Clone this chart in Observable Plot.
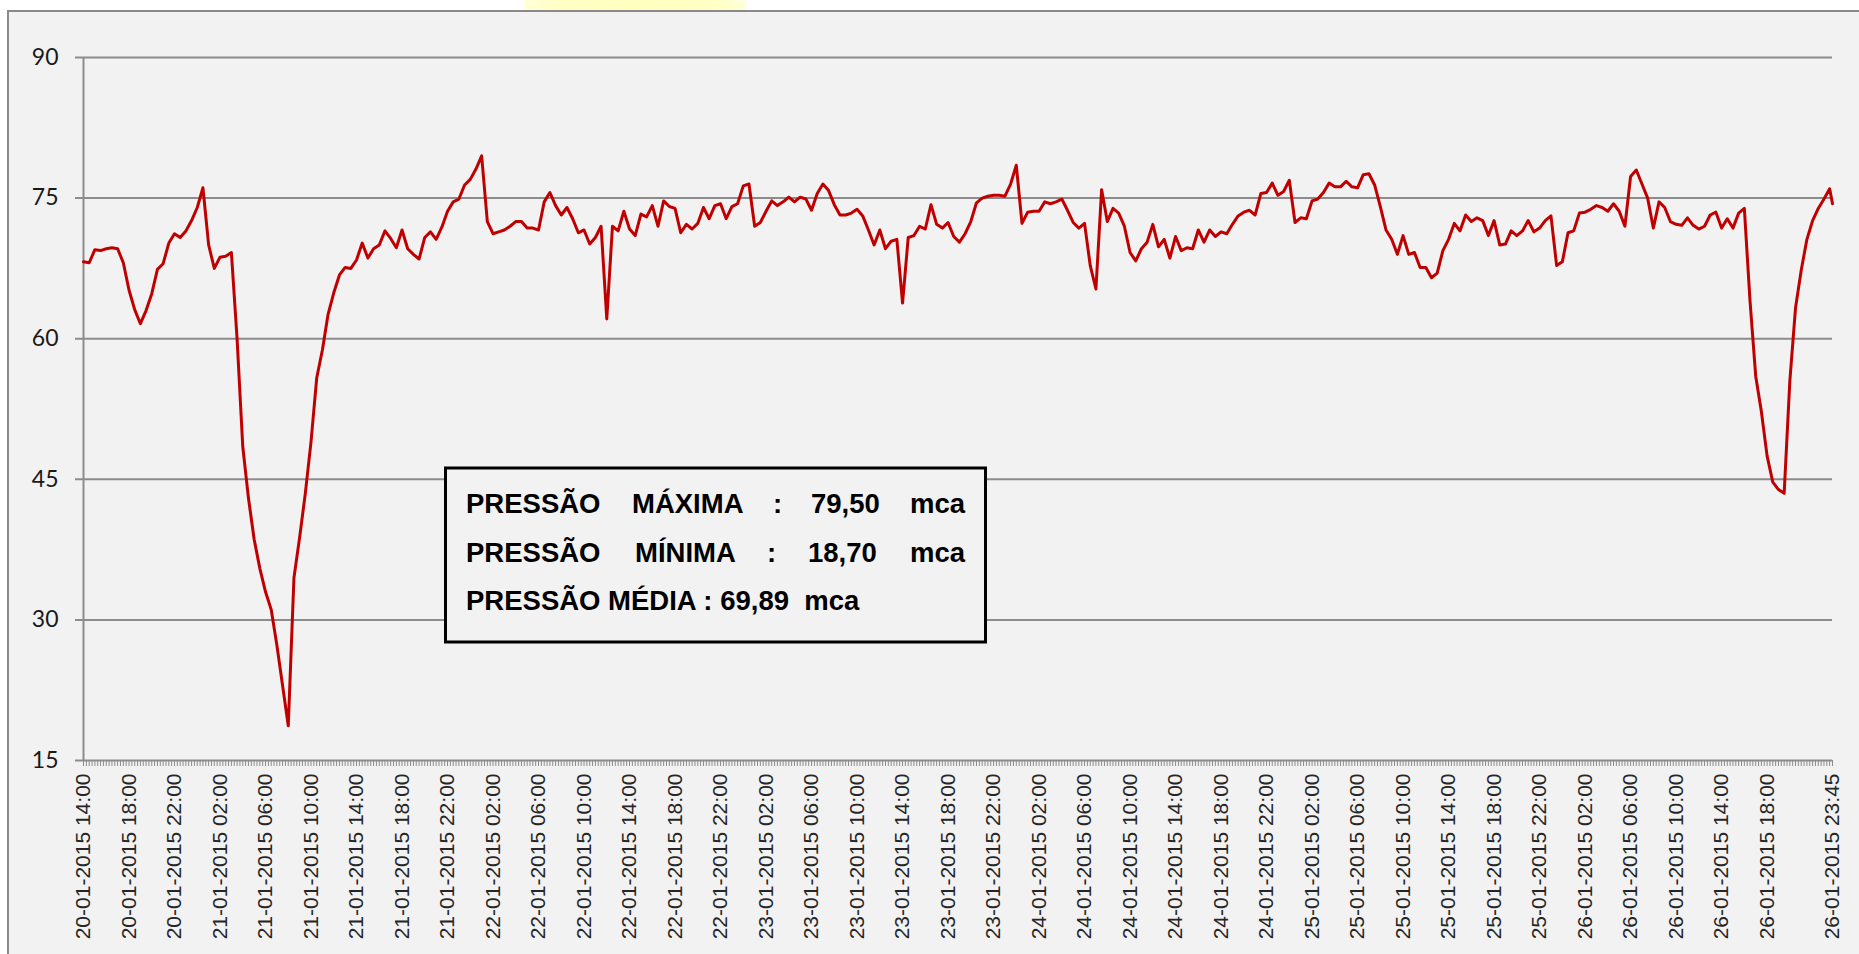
<!DOCTYPE html>
<html>
<head>
<meta charset="utf-8">
<script src="https://cdn.jsdelivr.net/npm/d3@7"></script>
<script src="https://cdn.jsdelivr.net/npm/@observablehq/plot@0.6"></script>
<style>
  html, body { margin: 0; padding: 0; width: 1859px; height: 954px; overflow: hidden; background: #ffffff; }
  #glow { position: absolute; left: 524px; top: -8px; width: 222px; height: 20px;
          background: radial-gradient(ellipse at 50% 70%, #ffffbe 0%, #ffffc6 55%, rgba(255,255,220,0) 100%); }
  #frame { position: absolute; left: 7px; top: 10px; width: 1900px; height: 1000px;
           background: #f2f2f2; border: 2px solid #8a8a8a; }
  #chart { position: absolute; left: 0; top: 0; }
  #note { position: absolute; left: 0; top: 0; }
</style>
</head>
<body>
<div id="glow"></div>
<div id="frame"></div>
<div id="chart"></div>
<svg id="note" width="1859" height="954" xmlns="http://www.w3.org/2000/svg"></svg>
<script>
// ---- data -------------------------------------------------------------
const firstReading = "20-01-2015 14:00";
const intervalMinutes = 30;
// pressure (mca), one reading every 30 minutes from the first reading
const pressure = [
  68.2, 68.1, 69.5, 69.4, 69.6, 69.7, 69.6, 68.1, 65.2, 63.1,
  61.6, 63.0, 64.8, 67.4, 68.0, 70.2, 71.2, 70.8, 71.5, 72.6,
  74.0, 76.1, 70.0, 67.5, 68.7, 68.8, 69.2, 60.0, 48.5, 43.0,
  38.6, 35.5, 33.0, 31.1, 27.3, 23.0, 18.7, 34.5, 38.8, 43.5,
  49.0, 55.8, 58.8, 62.6, 64.9, 66.8, 67.6, 67.5, 68.4, 70.2,
  68.6, 69.6, 70.0, 71.5, 70.7, 69.7, 71.6, 69.6, 69.0, 68.5,
  70.8, 71.4, 70.6, 71.9, 73.6, 74.6, 74.9, 76.4, 77.0, 78.1,
  79.5, 72.5, 71.2, 71.4, 71.6, 72.0, 72.5, 72.5, 71.8, 71.8,
  71.6, 74.6, 75.6, 74.2, 73.2, 74.0, 72.8, 71.3, 71.6, 70.1,
  70.8, 72.0, 62.1, 72.0, 71.5, 73.6, 71.7, 71.0, 73.3, 73.0,
  74.2, 72.0, 74.7, 74.1, 73.9, 71.3, 72.2, 71.7, 72.3, 74.0,
  72.8, 74.2, 74.4, 72.8, 74.1, 74.4, 76.3, 76.5, 72.0, 72.4,
  73.6, 74.7, 74.2, 74.6, 75.1, 74.6, 75.1, 74.9, 73.7, 75.5,
  76.5, 75.8, 74.3, 73.2, 73.2, 73.4, 73.8, 73.1, 71.6, 70.0,
  71.6, 69.6, 70.4, 70.6, 63.8, 70.8, 71.0, 72.0, 71.7, 74.3,
  72.2, 71.8, 72.4, 70.9, 70.3, 71.2, 72.5, 74.5, 75.0, 75.2,
  75.3, 75.3, 75.2, 76.5, 78.5, 72.3, 73.5, 73.6, 73.6, 74.6,
  74.4, 74.6, 74.9, 73.7, 72.4, 71.8, 72.3, 67.8, 65.3, 75.9,
  72.5, 73.9, 73.4, 72.0, 69.2, 68.3, 69.6, 70.3, 72.2, 69.8,
  70.6, 68.6, 70.9, 69.4, 69.7, 69.6, 71.6, 70.3, 71.6, 70.9,
  71.4, 71.2, 72.2, 73.1, 73.5, 73.7, 73.2, 75.5, 75.6, 76.6,
  75.3, 75.7, 76.9, 72.4, 72.9, 72.8, 74.7, 74.9, 75.6, 76.6,
  76.2, 76.2, 76.8, 76.2, 76.1, 77.5, 77.6, 76.4, 74.1, 71.6,
  70.6, 69.0, 71.0, 69.0, 69.2, 67.6, 67.6, 66.5, 67.0, 69.4,
  70.6, 72.3, 71.5, 73.2, 72.5, 72.9, 72.6, 71.0, 72.6, 70.0,
  70.1, 71.5, 71.0, 71.5, 72.6, 71.4, 71.8, 72.6, 73.1, 67.8,
  68.2, 71.3, 71.5, 73.4, 73.5, 73.8, 74.2, 74.0, 73.6, 74.4,
  73.6, 72.0, 77.3, 78.0, 76.5, 75.0, 71.8, 74.6, 74.0, 72.5,
  72.2, 72.1, 72.9, 72.1, 71.7, 72.0, 73.2, 73.5, 71.8, 72.8,
  71.8, 73.4, 73.9, 64.0, 56.0, 52.2, 47.5, 44.7, 43.9, 43.5,
  55.5, 63.3, 67.3, 70.6, 72.6, 73.9, 74.9, 76.0
];
const lastReading = { time: "26-01-2015 23:45", value: 74.4 };

const yTicks = [15, 30, 45, 60, 75, 90];
const xTickLabels = [
  "20-01-2015 14:00", "20-01-2015 18:00", "20-01-2015 22:00",
  "21-01-2015 02:00", "21-01-2015 06:00", "21-01-2015 10:00", "21-01-2015 14:00", "21-01-2015 18:00", "21-01-2015 22:00",
  "22-01-2015 02:00", "22-01-2015 06:00", "22-01-2015 10:00", "22-01-2015 14:00", "22-01-2015 18:00", "22-01-2015 22:00",
  "23-01-2015 02:00", "23-01-2015 06:00", "23-01-2015 10:00", "23-01-2015 14:00", "23-01-2015 18:00", "23-01-2015 22:00",
  "24-01-2015 02:00", "24-01-2015 06:00", "24-01-2015 10:00", "24-01-2015 14:00", "24-01-2015 18:00", "24-01-2015 22:00",
  "25-01-2015 02:00", "25-01-2015 06:00", "25-01-2015 10:00", "25-01-2015 14:00", "25-01-2015 18:00", "25-01-2015 22:00",
  "26-01-2015 02:00", "26-01-2015 06:00", "26-01-2015 10:00", "26-01-2015 14:00", "26-01-2015 18:00", "26-01-2015 23:45"
];

const statNames = ["PRESSÃO", "PRESSÃO"];
const statKinds = ["MÁXIMA", "MÍNIMA"];
const statValues = ["79,50", "18,70"];
const meanLine = "PRESSÃO MÉDIA : 69,89\u00a0\u00a0mca";
const unit = "mca";

// ---- build ------------------------------------------------------------
const parse = d3.utcParse("%d-%m-%Y %H:%M");
const fmt = d3.utcFormat("%d-%m-%Y %H:%M");
const t0 = parse(firstReading);
const tEnd = parse(lastReading.time);
const rows = pressure.map((v, i) => ({ time: d3.utcMinute.offset(t0, i * intervalMinutes), value: v }));
rows.push({ time: tEnd, value: lastReading.value });

const quarterTicks = d3.utcMinute.every(15).range(t0, d3.utcMinute.offset(tEnd, 1));
const labelTicks = xTickLabels.map(parse);

const chart = Plot.plot({
  width: 1859,
  height: 954,
  marginLeft: 83,
  marginRight: 27,
  marginTop: 57,
  marginBottom: 194,
  style: { background: "transparent", color: "#1a1a1a", overflow: "visible" },
  x: { type: "utc", domain: [t0, tEnd] },
  y: { domain: [15, 90] },
  marks: [
    Plot.ruleY(yTicks, { stroke: "#8c8c8c", strokeWidth: 2, insetLeft: -8 }),
    Plot.ruleX([t0], { stroke: "#8c8c8c", strokeWidth: 2 }),
    Plot.axisY({ ticks: yTicks, tickSize: 0, tickPadding: 25, fontSize: 23, fontFamily: "Lato",
                 tickFormat: d => String(d), label: null }),
    Plot.axisX({ ticks: quarterTicks, tickSize: 6, tickFormat: () => "", stroke: "#8c8c8c",
                 strokeWidth: 1, label: null }),
    Plot.axisX({ ticks: labelTicks, tickSize: 0, tickPadding: 13, tickRotate: -90, tickFormat: fmt,
                 fontSize: 21, fontFamily: "Liberation Sans", fill: "#262626", label: null }),
    Plot.line(rows, { x: "time", y: "value", stroke: "#c00000", strokeWidth: 3,
                      strokeLinejoin: "round", strokeLinecap: "round" })
  ]
});
document.getElementById("chart").append(chart);

// ---- statistics box ---------------------------------------------------
const ns = "http://www.w3.org/2000/svg";
const note = document.getElementById("note");
function add(tag, attrs, text) {
  const el = document.createElementNS(ns, tag);
  for (const k in attrs) el.setAttribute(k, attrs[k]);
  if (text != null) el.textContent = text;
  note.appendChild(el);
  return el;
}
add("rect", { x: 445.5, y: 468, width: 540, height: 174, fill: "#f2f2f2", stroke: "#000", "stroke-width": 3 });
const tStyle = { "font-family": "Liberation Sans, Arial, sans-serif", "font-weight": "bold", "font-size": 27.5, fill: "#000" };
const lineY = [513, 562];
const kindX = [632, 635];
const colonX = [773, 767];
const valueX = [811, 808];
for (let i = 0; i < 2; i++) {
  add("text", { ...tStyle, x: 466, y: lineY[i] }, statNames[i]);
  add("text", { ...tStyle, x: kindX[i], y: lineY[i] }, statKinds[i]);
  add("text", { ...tStyle, x: colonX[i], y: lineY[i] }, ":");
  add("text", { ...tStyle, x: valueX[i], y: lineY[i] }, statValues[i]);
  add("text", { ...tStyle, x: 910, y: lineY[i] }, unit);
}
add("text", { ...tStyle, x: 466, y: 610 }, meanLine);
</script>
</body>
</html>
